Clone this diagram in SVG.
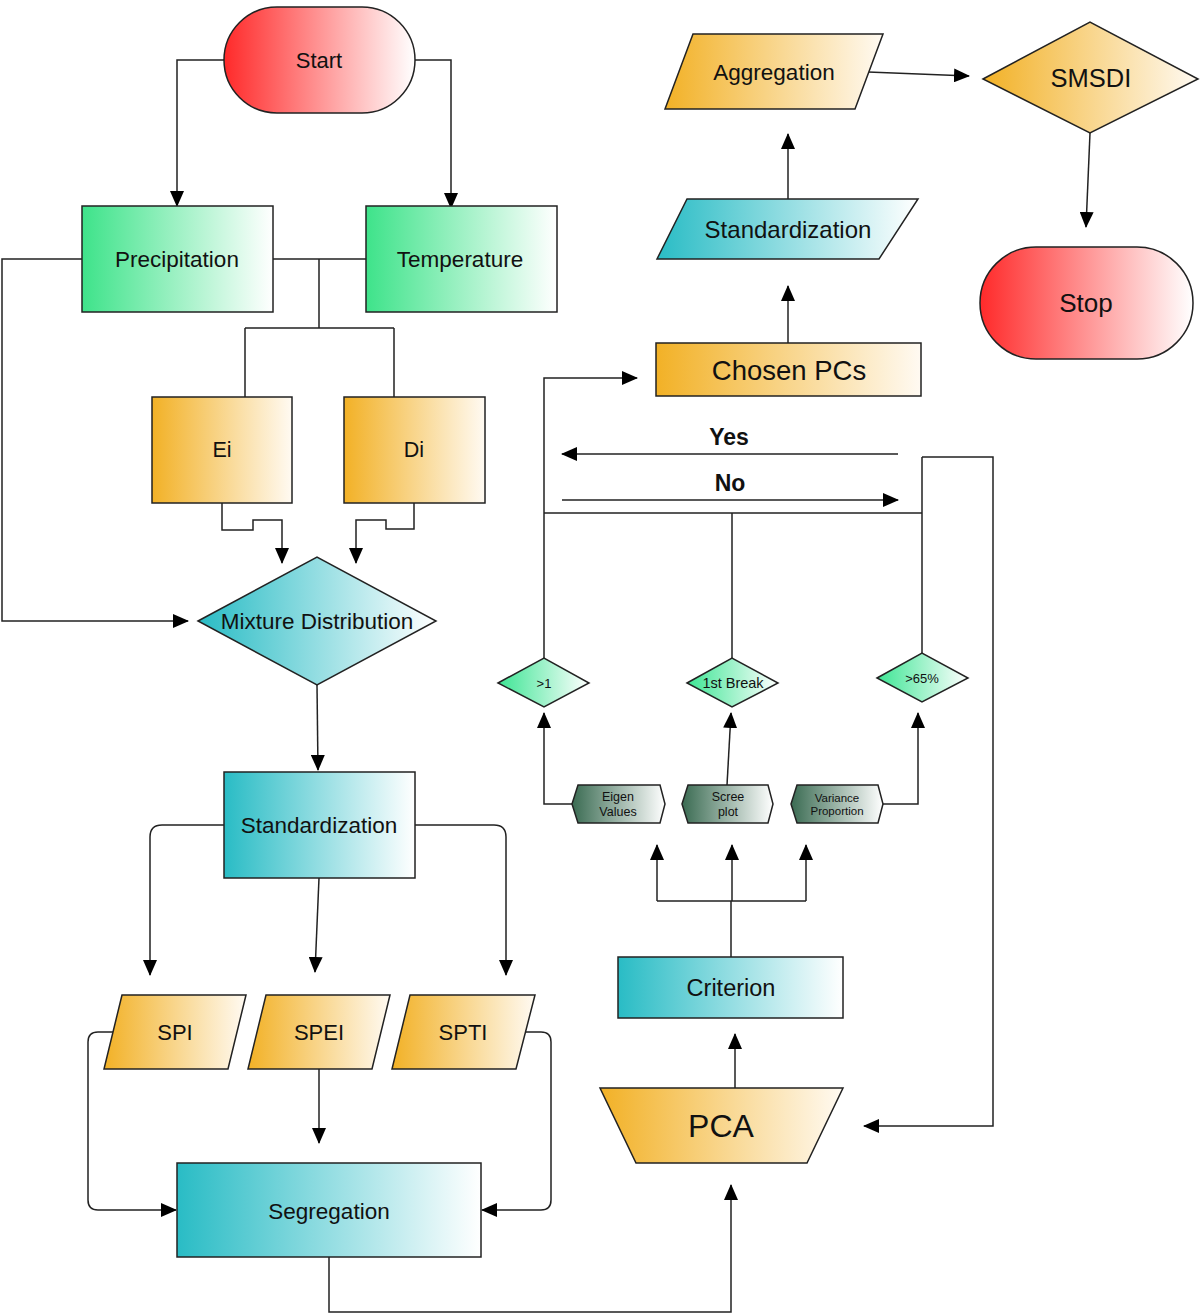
<svg xmlns="http://www.w3.org/2000/svg" width="1200" height="1315" viewBox="0 0 1200 1315">
<defs>
<linearGradient id="gRed" x1="0" y1="0" x2="1" y2="0"><stop offset="0" stop-color="#ff2a2a"/><stop offset="1" stop-color="#ffffff"/></linearGradient>
<linearGradient id="gGreen" x1="0" y1="0" x2="1" y2="0"><stop offset="0" stop-color="#3ee38a"/><stop offset="1" stop-color="#ffffff"/></linearGradient>
<linearGradient id="gOrange" x1="0" y1="0" x2="1" y2="0"><stop offset="0" stop-color="#f2b126"/><stop offset="1" stop-color="#fffaf2"/></linearGradient>
<linearGradient id="gTeal" x1="0" y1="0" x2="1" y2="0"><stop offset="0" stop-color="#29bcc5"/><stop offset="1" stop-color="#ffffff"/></linearGradient>
<linearGradient id="gDark" x1="0" y1="0" x2="1" y2="0"><stop offset="0" stop-color="#3a6b52"/><stop offset="1" stop-color="#ffffff"/></linearGradient>
<linearGradient id="gLight" x1="0" y1="0" x2="1" y2="0"><stop offset="0" stop-color="#3de594"/><stop offset="1" stop-color="#ffffff"/></linearGradient>
<marker id="arr" markerUnits="userSpaceOnUse" markerWidth="16" markerHeight="14" refX="15" refY="7" orient="auto">
<path d="M0,0 L16,7 L0,14 Z" fill="#000"/>
</marker>
<style>
.n{stroke:#222;stroke-width:1.5}
.t{font-family:"Liberation Sans",Arial,sans-serif;fill:#111;text-anchor:middle;dominant-baseline:central}
.c{fill:none;stroke:#222;stroke-width:1.5}
.a{marker-end:url(#arr)}
.b{font-weight:bold}
</style>
</defs>
<g id="connectors">
<path class="c a" d="M224,60 H177 V206"/>
<path class="c a" d="M415,60 H451 V208"/>
<path class="c" d="M273,259 H366 M319,259 V328 M245,328 H394 M245,328 V397 M394,328 V397"/>
<path class="c a" d="M82,259 H2 V621 H188"/>
<path class="c a" d="M222,503 V530 H253 V520 H282 V563"/>
<path class="c a" d="M414,503 V529 H386 V520 H356 V563"/>
<path class="c a" d="M317,685 L318,770"/>
<path class="c a" d="M224,825 H162 Q150,825 150,837 V975"/>
<path class="c a" d="M415,825 H494 Q506,825 506,837 V975"/>
<path class="c a" d="M319,878 L315,972"/>
<path class="c a" d="M113,1032 H98 Q88,1032 88,1042 V1200 Q88,1210 98,1210 H176"/>
<path class="c a" d="M526,1032 H541 Q551,1032 551,1042 V1200 Q551,1210 541,1210 H482"/>
<path class="c a" d="M319,1069 V1143"/>
<path class="c a" d="M329,1257 V1312 H731 V1185"/>
<path class="c a" d="M735,1088 V1034"/>
<path class="c" d="M731,957 V901 M657,901 H806"/>
<path class="c a" d="M657,901 V845"/>
<path class="c a" d="M732,901 V845"/>
<path class="c a" d="M806,901 V845"/>
<path class="c a" d="M572,804 H544 V713"/>
<path class="c a" d="M727,785 L731,713"/>
<path class="c a" d="M883,804 H918 V713"/>
<path class="c" d="M544,658 V513 M732,658 V513 M922,653 V457 M544,513 H922"/>
<path class="c a" d="M544,513 V378 H637"/>
<path class="c a" d="M922,457 H993 V1126 H864"/>
<path class="c a" d="M898,454 H562"/>
<path class="c a" d="M562,500 H898"/>
<path class="c a" d="M788,343 V286"/>
<path class="c a" d="M788,199 V134"/>
<path class="c a" d="M868,72 L969,76"/>
<path class="c a" d="M1090,133 L1086,227"/>
</g>
<text class="t b" x="729" y="437" font-size="23">Yes</text>
<text class="t b" x="730" y="483" font-size="23">No</text>
<g id="start"><rect class="n" x="224" y="7" width="191" height="106" rx="53" fill="url(#gRed)"/><text class="t" x="319" y="60" font-size="22">Start</text></g>
<g id="precipitation"><rect class="n" x="82" y="206" width="191" height="106" fill="url(#gGreen)"/><text class="t" x="177" y="259" font-size="22.5">Precipitation</text></g>
<g id="temperature"><rect class="n" x="366" y="206" width="191" height="106" fill="url(#gGreen)"/><text class="t" x="460" y="259" font-size="22.5">Temperature</text></g>
<g id="ei"><rect class="n" x="152" y="397" width="140" height="106" fill="url(#gOrange)"/><text class="t" x="222" y="450" font-size="21.5">Ei</text></g>
<g id="di"><rect class="n" x="344" y="397" width="141" height="106" fill="url(#gOrange)"/><text class="t" x="414" y="450" font-size="21.5">Di</text></g>
<g id="mixture"><polygon class="n" points="198,621 317,557 436,621 317,685" fill="url(#gTeal)"/><text class="t" x="317" y="621" font-size="22.5">Mixture Distribution</text></g>
<g id="standardization1"><rect class="n" x="224" y="772" width="191" height="106" fill="url(#gTeal)"/><text class="t" x="319" y="825" font-size="22.5">Standardization</text></g>
<g id="spi"><polygon class="n" points="122,995 246,995 228,1069 104,1069" fill="url(#gOrange)"/><text class="t" x="175" y="1032" font-size="22">SPI</text></g>
<g id="spei"><polygon class="n" points="266,995 390,995 372,1069 248,1069" fill="url(#gOrange)"/><text class="t" x="319" y="1032" font-size="22">SPEI</text></g>
<g id="spti"><polygon class="n" points="410,995 535,995 516,1069 392,1069" fill="url(#gOrange)"/><text class="t" x="463" y="1032" font-size="22">SPTI</text></g>
<g id="segregation"><rect class="n" x="177" y="1163" width="304" height="94" fill="url(#gTeal)"/><text class="t" x="329" y="1211" font-size="22.5">Segregation</text></g>
<g id="pca"><polygon class="n" points="600,1088 843,1088 807,1163 636,1163" fill="url(#gOrange)"/><text class="t" x="721" y="1126" font-size="32">PCA</text></g>
<g id="criterion"><rect class="n" x="618" y="957" width="225" height="61" fill="url(#gTeal)"/><text class="t" x="731" y="988" font-size="23.5">Criterion</text></g>
<g id="eigen"><polygon class="n" points="572,804 578,785 660,785 665,804 660,823 578,823" fill="url(#gDark)"/><text class="t" x="618" y="797" font-size="12.5">Eigen</text><text class="t" x="618" y="812" font-size="12.5">Values</text></g>
<g id="scree"><polygon class="n" points="682,804 688,785 768,785 773,804 768,823 688,823" fill="url(#gDark)"/><text class="t" x="728" y="797" font-size="12.5">Scree</text><text class="t" x="728" y="812" font-size="12.5">plot</text></g>
<g id="variance"><polygon class="n" points="791,804 797,785 878,785 883,804 878,823 797,823" fill="url(#gDark)"/><text class="t" x="837" y="798" font-size="11.5">Variance</text><text class="t" x="837" y="811" font-size="11.5">Proportion</text></g>
<g id="gt1"><polygon class="n" points="498,683 544,658 589,683 544,707" fill="url(#gLight)"/><text class="t" x="544" y="683" font-size="13">&gt;1</text></g>
<g id="break"><polygon class="n" points="687,683 732,658 778,683 732,707" fill="url(#gLight)"/><text class="t" x="733" y="683" font-size="14.5">1st Break</text></g>
<g id="gt65"><polygon class="n" points="877,678 922,653 968,678 922,702" fill="url(#gLight)"/><text class="t" x="922" y="678" font-size="13">&gt;65%</text></g>
<g id="chosen"><rect class="n" x="656" y="343" width="265" height="53" fill="url(#gOrange)"/><text class="t" x="789" y="370" font-size="27.5">Chosen PCs</text></g>
<g id="standardization2"><polygon class="n" points="687,199 918,199 879,259 657,259" fill="url(#gTeal)"/><text class="t" x="788" y="229" font-size="24">Standardization</text></g>
<g id="aggregation"><polygon class="n" points="693,34 883,34 855,109 665,109" fill="url(#gOrange)"/><text class="t" x="774" y="72" font-size="22.5">Aggregation</text></g>
<g id="smsdi"><polygon class="n" points="983,79 1090,22 1198,79 1090,133" fill="url(#gOrange)"/><text class="t" x="1091" y="78" font-size="25.5">SMSDI</text></g>
<g id="stop"><rect class="n" x="980" y="247" width="213" height="112" rx="56" fill="url(#gRed)"/><text class="t" x="1086" y="303" font-size="26">Stop</text></g>
</svg>
